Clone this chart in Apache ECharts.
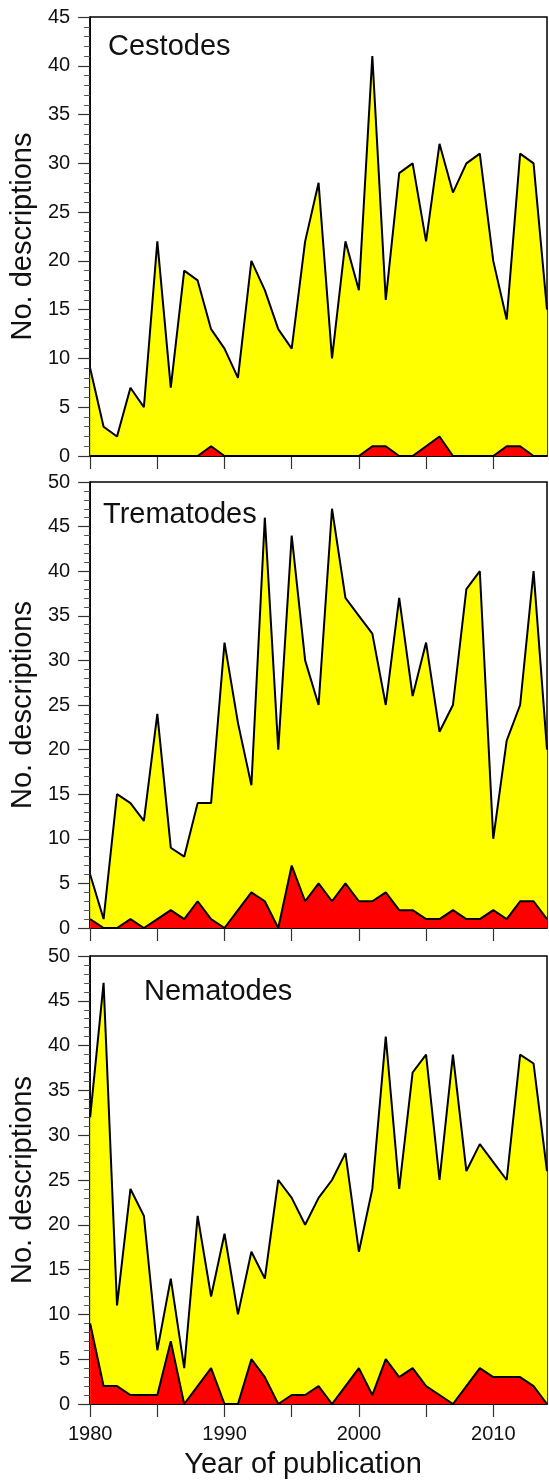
<!DOCTYPE html>
<html><head><meta charset="utf-8">
<script src="https://cdn.jsdelivr.net/npm/echarts@6/dist/echarts.min.js"></script>
<style>html,body{margin:0;padding:0;background:#fff}#c{width:549px;height:1480px}</style>
</head><body><div id="c"></div>
<script>
const years = [1980,1981,1982,1983,1984,1985,1986,1987,1988,1989,1990,1991,1992,1993,1994,1995,1996,1997,1998,1999,2000,2001,2002,2003,2004,2005,2006,2007,2008,2009,2010,2011,2012,2013,2014];
const xTicks = [1980,1985,1990,1995,2000,2005,2010];
const xTickLabels = [1980,1990,2000,2010];
const panelNames = ['Cestodes','Trematodes','Nematodes'];
const yMax = [45,50,50];

const cestodesTotal = [9,3,2,7,5,22,7,19,18,13, 11,8,20,17,13,11,22,28,10,22, 17,41,16,29,30,22,32,27,30,31, 20,14,31,30,15];
const cestodesNew   = [0,0,0,0,0,0,0,0,0,1, 0,0,0,0,0,0,0,0,0,0, 0,1,1,0,0,1,2,0,0,0, 0,1,1,0,0];
const trematodesTotal = [6,1,15,14,12,24,9,8,14,14, 32,23,16,46,20,44,30,25,47,37, 35,33,25,37,26,32,22,25,38,40, 10,21,25,40,20];
const trematodesNew   = [1,0,0,1,0,1,2,1,3,1, 0,2,4,3,0,7,3,5,3,5, 3,3,4,2,2,1,1,2,1,1, 2,1,3,3,1];
const nematodesTotal = [32,47,11,24,21,6,14,4,21,12, 19,10,17,14,25,23,20,23,25,28, 17,24,41,24,37,39,25,39,26,29, 27,25,39,38,26];
const nematodesNew   = [9,2,2,1,1,1,7,0,2,4, 0,0,5,3,0,1,1,2,0,2, 4,1,5,3,4,2,1,0,2,4, 3,3,3,2,0];

const totals = [cestodesTotal, trematodesTotal, nematodesTotal];
const news = [cestodesNew, trematodesNew, nematodesNew];

const FONT = '"Liberation Sans", Arial, Helvetica, sans-serif';
const grids = [
  {left:88, right:2, top:17, height:439},
  {left:88, right:2, top:482, height:446},
  {left:88, right:2, top:956, height:448}
];
const namePos = [[108,48],[103,516],[144,993]];

const xAxes = [], yAxes = [], series = [], graphics = [];
grids.forEach((g,i)=>{
  g.show = true; g.borderColor = '#000'; g.borderWidth = 1.5; g.backgroundColor = 'transparent';
  xAxes.push({
    type:'value', gridIndex:i, min:1980, max:2014, interval:5,
    axisLine:{show:true, lineStyle:{color:'#000', width:1.5}},
    axisTick:{show:true, length:13, lineStyle:{color:'#333', width:1.2}, customValues:xTicks},
    axisLabel:{show:i===2, fontSize:20, color:'#111', fontFamily:FONT, margin:20, customValues:xTickLabels,
      formatter:function(v){return String(v);}},
    splitLine:{show:false}
  });
  yAxes.push({
    type:'value', gridIndex:i, min:0, max:yMax[i], interval:5,
    name:'No. descriptions', nameLocation:'middle', nameGap:42,
    nameTextStyle:{fontSize:29, color:'#111', fontFamily:FONT},
    axisLine:{show:true, lineStyle:{color:'#000', width:1.5}},
    axisTick:{show:true, length:12, lineStyle:{color:'#333', width:1.2}},
    minorTick:{show:true, splitNumber:5, length:6, lineStyle:{color:'#555', width:1}},
    axisLabel:{fontSize:20, color:'#111', fontFamily:FONT, margin:20},
    splitLine:{show:false}
  });
  series.push({
    type:'line', xAxisIndex:i, yAxisIndex:i, symbol:'none', animation:false,
    data: years.map((y,k)=>[y, totals[i][k]]),
    lineStyle:{color:'#000', width:2},
    areaStyle:{color:'#ffff00', opacity:1}, z:2
  });
  series.push({
    type:'line', xAxisIndex:i, yAxisIndex:i, symbol:'none', animation:false,
    data: years.map((y,k)=>[y, news[i][k]]),
    lineStyle:{color:'#000', width:2},
    areaStyle:{color:'#ff0000', opacity:1}, z:3
  });
  graphics.push({
    type:'text', left:namePos[i][0], top:namePos[i][1]-16, z:10,
    style:{text:panelNames[i], font:'29px '+FONT, fill:'#111'}
  });
});
graphics.push({
  type:'text', x:303, y:1465, z:10,
  style:{text:'Year of publication', font:'29px '+FONT, fill:'#111', textAlign:'center', textVerticalAlign:'middle'}
});

const chart = echarts.init(document.getElementById('c'), null, {renderer:'canvas'});
chart.setOption({
  animation:false,
  backgroundColor:'#fff',
  grid:grids, xAxis:xAxes, yAxis:yAxes, series:series, graphic:graphics
});
</script>
</body></html>
